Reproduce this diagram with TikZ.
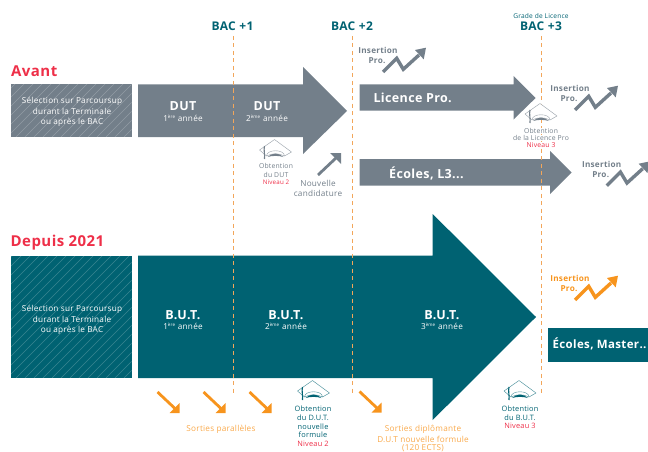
\documentclass[tikz,border=0pt]{standalone}
\usepackage{fontspec}
\setmainfont[LetterSpace=3]{Open Sans}
\definecolor{greyc}{HTML}{737F8A}
\definecolor{tealc}{HTML}{006272}
\definecolor{redc}{HTML}{EE2F48}
\definecolor{orangec}{HTML}{F7941D}
\definecolor{softor}{HTML}{F9A94B}
\definecolor{dashc}{HTML}{F2A65A}
\newcommand{\fs}[1]{\fontsize{#1}{#1}\selectfont}
\newcommand{\gradcap}[3]{%
  \begin{scope}[shift={(#1,#2)}]
    \draw[draw=#3!70!white,line width=.45pt,line join=round,fill=white] (-16,0) -- (-1,-10.5) -- (16,2) -- (9,6) .. controls (3,3) and (-3,3) .. (-9,6) -- cycle;
    \draw[draw=#3!70!white,line width=.4pt] (-9,6) .. controls (-9,-1) and (9,-1) .. (9,6);
    \fill[#3] (-8,7) .. controls (-3,2.5) and (3,2.5) .. (8,7) .. controls (3,5.5) and (-3,5.5) .. (-8,7) -- cycle;
    \draw[draw=#3,line width=1.1pt] (-11,-4) .. controls (-12,0) and (-10.5,4) .. (-11,9);
  \end{scope}}
\newcommand{\zigzag}[3]{%
  \begin{scope}[shift={(#1,#2)}]
    \draw[draw=#3,line width=3.4pt] (0,0) -- (13.7,-13.7) -- (20.3,-2.7) -- (36,-17);
    \fill[#3] (43,-24.3) -- (32,-22) -- (40.7,-12.7) -- cycle;
  \end{scope}}
\newcommand{\sortie}[2]{%
  \begin{scope}[shift={(#1,#2)}]
    \draw[draw=orangec,line width=2.8pt] (0,0) -- (18,17);
    \fill[orangec] (22,21) -- (22,11) -- (12,21) -- cycle;
  \end{scope}}
\newcommand{\hatchbox}[5]{%
  \fill[#5] (#1,#2) rectangle (#3,#4);
  \begin{scope}
    \clip (#1,#2) rectangle (#3,#4);
    \foreach \k in {0,9,...,270}
      \draw[white,opacity=.22,line width=.6pt] (#1-130+\k,#4) -- ++(150,-150) ;
  \end{scope}}
\tikzset{
  x=1pt,y=-1pt,
  txt/.style={inner sep=0pt,align=center,font=\fs{8.2}},
  boxw/.style={txt,text=white,font=\fs{8.2}},
  headw/.style={txt,text=white,font=\bfseries\fs{12.5}},
  subw/.style={txt,text=white,font=\fs{8.2}},
  bac/.style={txt,text=tealc,font=\bfseries\fs{12}},
  title/.style={txt,anchor=west,text=redc,font=\bfseries\fs{15}},
  small/.style={txt,font=\fs{6.8}},
  ins/.style={txt,font=\bfseries\fs{8.2}},
  yline/.style={draw=dashc,line width=.8pt,dash pattern=on 4pt off 3.5pt},
  barlabel/.style={txt,anchor=west,text=white,font=\bfseries\fs{12.5}},
}
\newcommand{\sups}[1]{\textsuperscript{\fs{4.5}#1}}
\begin{document}
\begin{tikzpicture}
\useasboundingbox (0,0) rectangle (648,452);
% boxes
\hatchbox{11}{84.5}{131.7}{137}{greyc}
\hatchbox{11}{255.5}{131.7}{378}{tealc}
% arrows
\fill[greyc] (138,84.5) -- (303,84.5) -- (303,67) -- (347,111) -- (303,154) -- (303,137) -- (138,137) -- cycle;
\fill[greyc] (359.5,84.5) -- (513.5,84.5) -- (513.5,76) -- (535.6,98) -- (513.5,119.5) -- (513.5,110.7) -- (359.5,110.7) -- cycle;
\fill[greyc] (359.5,159) -- (550,159) -- (550,151) -- (571.7,172.5) -- (550,194) -- (550,185.5) -- (359.5,185.5) -- cycle;
\fill[tealc] (138,255.5) -- (432.7,255.5) -- (432.7,214) -- (536,317) -- (432.7,420) -- (432.7,378) -- (138,378) -- cycle;
\fill[tealc] (548,327.5) rectangle (648,362);
% year lines
\coordinate (y1a) at (233,36); \coordinate (y1b) at (233,395);
\coordinate (y2a) at (352.7,36); \coordinate (y2b) at (352.7,395);
\coordinate (y3a) at (541.2,36); \coordinate (y3b) at (541.2,395);
\draw[yline] (y1a) -- (y1b);
\draw[yline] (y2a) -- (y2b);
\draw[yline] (y3a) -- (y3b);
% headings
\node[title] (avant) at (11,71) {Avant};
\node[title] (depuis) at (10.5,242.5) {Depuis 2021};
\node[bac] (b1) at (232.5,26) {BAC +1};
\node[bac] (b2) at (352,26) {BAC +2};
\node[bac] (b3) at (541,26) {BAC +3};
\node[txt,text=tealc,font=\fs{6.6}] (grade) at (541,16) {Grade de Licence};
% selection text
\node[boxw] (s1a) at (72,101) {Sélection sur Parcoursup};
\node[boxw] (s1b) at (72,111.5) {durant la Terminale};
\node[boxw] (s1c) at (72,122) {ou après le BAC};
\node[boxw] (s2a) at (72,309) {Sélection sur Parcoursup};
\node[boxw] (s2b) at (72,319.5) {durant la Terminale};
\node[boxw] (s2c) at (72,330) {ou après le BAC};
% DUT
\node[headw] (d1) at (183,106.5) {DUT};
\node[subw] (d1s) at (183,118) {1\sups{ère} année};
\node[headw] (d2) at (267,106.5) {DUT};
\node[subw] (d2s) at (267,118) {2\sups{ème} année};
\node[barlabel] (lp) at (373.3,97.5) {Licence Pro.};
\node[barlabel] (el3) at (389,173) {Écoles, L3...};
% BUT
\node[headw] (u1) at (183,315) {B.U.T.};
\node[subw] (u1s) at (183,326.5) {1\sups{ère} année};
\node[headw] (u2) at (286,315) {B.U.T.};
\node[subw] (u2s) at (286,326.5) {2\sups{ème} année};
\node[headw] (u3) at (442,315) {B.U.T.};
\node[subw] (u3s) at (442,326.5) {3\sups{ème} année};
\node[barlabel,font=\bfseries\fs{11.5}] (em) at (552.5,344) {Écoles, Master..};
% caps and captions
\gradcap{275.5}{150}{greyc}
\node[small,text=greyc] (o1a) at (276,166) {Obtention};
\node[small,text=greyc] (o1b) at (276,174.5) {du DUT};
\node[small,text=redc,font=\fs{6.2}] (o1c) at (276,182) {Niveau 2};
\gradcap{541}{114}{greyc}
\node[small,text=greyc,fill=white,inner sep=.3pt] (o2a) at (541,130.5) {Obtention};
\node[small,text=greyc,fill=white,inner sep=.3pt] (o2b) at (541,138) {de la Licence Pro};
\node[small,text=redc,fill=white,inner sep=.3pt] (o2c) at (541,145) {Niveau 3};
\gradcap{313.5}{391}{tealc}
\node[small,text=tealc,font=\fs{7.4}] (o3a) at (313,408.5) {Obtention};
\node[small,text=tealc,font=\fs{7.4}] (o3b) at (313,417.5) {du D.U.T.};
\node[small,text=tealc,font=\fs{7.4}] (o3c) at (313,426.3) {nouvelle};
\node[small,text=tealc,font=\fs{7.4}] (o3d) at (313,435) {formule};
\node[small,text=redc,font=\fs{7.4}] (o3e) at (313,444) {Niveau 2};
\gradcap{520}{391}{tealc}
\node[small,text=tealc,font=\fs{7.4}] (o4a) at (520,408.5) {Obtention};
\node[small,text=tealc,font=\fs{7.4}] (o4b) at (520,417.5) {du B.U.T.};
\node[small,text=redc,font=\fs{7.4}] (o4c) at (520,426.3) {Niveau 3};
% nouvelle candidature
\draw[draw=greyc,line width=2.8pt] (318,175) -- (336,158);
\fill[greyc] (341,153) -- (341,164) -- (330,153) -- cycle;
\node[txt,text=greyc] (nc1) at (318,183) {Nouvelle};
\node[txt,text=greyc] (nc2) at (318,193) {candidature};
% insertion
\zigzag{383}{72}{greyc}
\node[ins,text=greyc] (i1a) at (378,50.7) {Insertion};
\node[ins,text=greyc] (i1b) at (377,60.7) {Pro.};
\zigzag{575}{110}{greyc}
\node[ins,text=greyc] (i2a) at (570,88.7) {Insertion};
\node[ins,text=greyc] (i2b) at (569,98.7) {Pro.};
\zigzag{606.7}{185.7}{greyc}
\node[ins,text=greyc] (i3a) at (601.7,164.4) {Insertion};
\node[ins,text=greyc] (i3b) at (600.7,174.4) {Pro.};
\zigzag{575}{300}{orangec}
\node[ins,text=orangec] (i4a) at (570,278.7) {Insertion};
\node[ins,text=orangec] (i4b) at (569,288.7) {Pro.};
% sorties
\sortie{157.5}{392}
\sortie{203.5}{392}
\sortie{249.5}{392}
\sortie{359.5}{391.5}
\node[txt,text=softor] (sp) at (221,429) {Sorties parallèles};
\node[txt,text=softor] (sd1) at (423,429.5) {Sorties diplômante};
\node[txt,text=softor] (sd2) at (423,439.5) {D.U.T nouvelle formule};
\node[txt,text=softor] (sd3) at (423,448.5) {(120 ECTS)};
\end{tikzpicture}
\end{document}
